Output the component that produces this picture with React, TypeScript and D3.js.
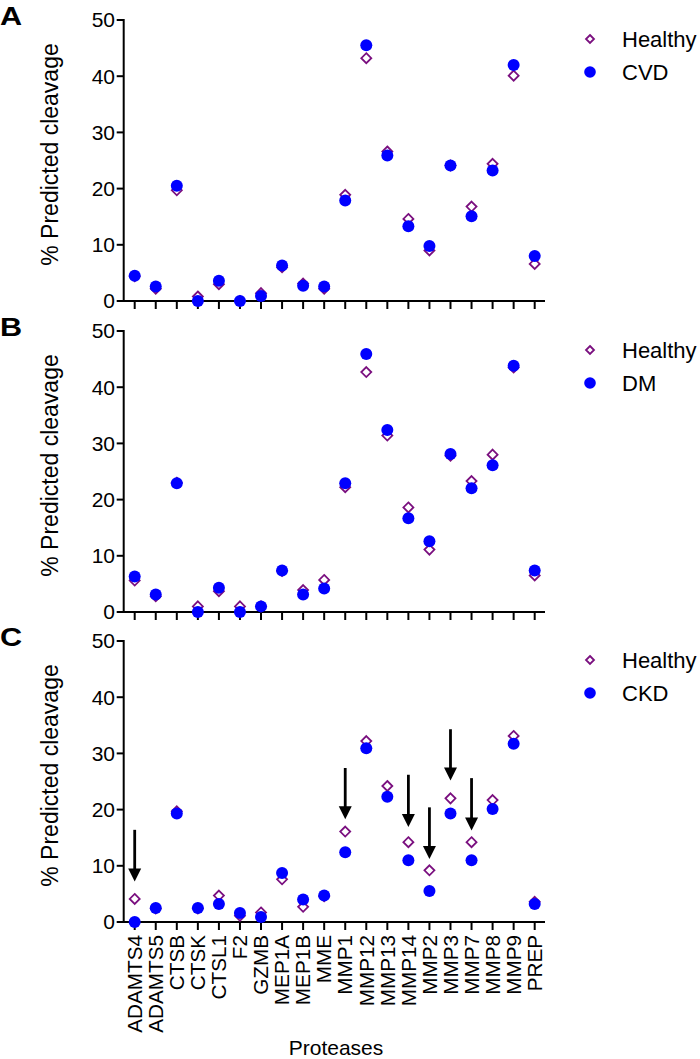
import React from "react";
import * as d3 from "d3";

const categories = ["ADAMTS4","ADAMTS5","CTSB","CTSK","CTSL1","F2","GZMB","MEP1A","MEP1B","MME","MMP1","MMP12","MMP13","MMP14","MMP2","MMP3","MMP7","MMP8","MMP9","PREP"];
const yTicks = [0, 10, 20, 30, 40, 50];

const healthyA = [4.4,2.2,19.7,0.8,3.0,0,1.4,6.0,3.1,2.2,18.9,43.2,26.6,14.6,9.0,24.1,16.8,24.4,40.1,6.6];
const cvd = [4.5,2.6,20.5,0,3.6,0,0.9,6.3,2.7,2.6,17.9,45.5,25.9,13.3,9.8,24.1,15.1,23.2,42.0,8.0];
const healthyB = [5.6,2.8,23.0,1.0,3.7,1.0,1.0,7.3,3.9,5.7,22.2,42.7,31.4,18.6,11.1,27.8,23.3,28.0,43.5,6.5];
const dm = [6.3,3.1,22.9,0,4.3,0,1.0,7.4,3.1,4.2,22.9,45.9,32.4,16.7,12.6,28.1,22.0,26.1,43.8,7.4];
const healthyC = [4.1,2.4,19.7,2.4,4.7,1.1,1.7,7.6,2.7,4.6,16.1,32.2,24.2,14.2,9.2,22.0,14.2,21.7,33.1,3.6];
const ckd = [0,2.5,19.3,2.5,3.2,1.6,0.9,8.7,4.0,4.7,12.4,30.9,22.3,11.0,5.5,19.3,11.0,20.1,31.7,3.2];

// arrows in panel C: [category, top value, tip value]
const arrowCats = ["ADAMTS4","MMP1","MMP14","MMP2","MMP3","MMP7"];
const arrowTop = [16.4,27.4,26.2,20.4,34.3,25.6];
const arrowTip = [7.2,18.3,16.9,11.2,25.2,16.3];

const panels = [
  { letter: "A", disease: "CVD", healthy: healthyA, sick: cvd, top: 20, bottom: 301 },
  { letter: "B", disease: "DM", healthy: healthyB, sick: dm, top: 331, bottom: 612 },
  { letter: "C", disease: "CKD", healthy: healthyC, sick: ckd, top: 641, bottom: 922 },
];

const FONT = "Liberation Sans, Arial, Helvetica, sans-serif";
const BLUE = "#0000ff";
const PURPLE = "#7a0f7f";

const x = d3.scalePoint<string>().domain(categories).range([134.7, 534.7]);
const AXIS_X = 123.7;
const AXIS_END = 545;

function diamond(cx: number, cy: number, r: number) {
  return `M${cx},${cy - r}L${cx + r},${cy}L${cx},${cy + r}L${cx - r},${cy}Z`;
}

function Panel({ p, showLabels }: { p: typeof panels[0]; showLabels: boolean }) {
  const y = d3.scaleLinear().domain([0, 50]).range([p.bottom, p.top]);
  return (
    <g>
      <text x={0} y={p.top + 5} fontFamily={FONT} fontWeight="bold" fontSize={25.5}
        transform={`scale(1.2,1)`}>{p.letter}</text>
      {/* y axis */}
      <line x1={AXIS_X} x2={AXIS_X} y1={p.top - 1} y2={p.bottom + 1} stroke="#000" strokeWidth={2} />
      {yTicks.map((t) => (
        <g key={t}>
          <line x1={AXIS_X - 7} x2={AXIS_X} y1={y(t)} y2={y(t)} stroke="#000" strokeWidth={2} />
          <text x={115} y={y(t)} dy="0.35em" textAnchor="end" fontFamily={FONT} fontSize={21}>{t}</text>
        </g>
      ))}
      <text transform={`translate(50,${p.top + 134.5}) rotate(-90)`} dy="0.35em" textAnchor="middle"
        fontFamily={FONT} fontSize={23}>% Predicted cleavage</text>
      {/* x axis */}
      <line x1={AXIS_X - 1} x2={AXIS_END} y1={p.bottom} y2={p.bottom} stroke="#000" strokeWidth={2} />
      {categories.map((c) => (
        <line key={c} x1={x(c)} x2={x(c)} y1={p.bottom} y2={p.bottom + 8} stroke="#000" strokeWidth={2} />
      ))}
      {showLabels && categories.map((c) => (
        <text key={c} transform={`translate(${x(c)},${p.bottom + 13}) rotate(-90)`} dy="0.35em"
          textAnchor="end" fontFamily={FONT} fontSize={20.7}>{c}</text>
      ))}
      {/* points */}
      {categories.map((c, i) => (
        <path key={"h" + c} d={diamond(x(c)!, y(p.healthy[i]), 5)} fill="#fff" stroke={PURPLE} strokeWidth={1.8} />
      ))}
      {categories.map((c, i) => (
        <circle key={"s" + c} cx={x(c)} cy={y(p.sick[i])} r={6} fill={BLUE} />
      ))}
      {/* legend */}
      <path d={diamond(590, p.top + 19, 4)} fill="#fff" stroke={PURPLE} strokeWidth={1.8} />
      <text x={622} y={p.top + 19} dy="0.35em" fontFamily={FONT} fontSize={22}>Healthy</text>
      <circle cx={590} cy={p.top + 52} r={5.8} fill={BLUE} />
      <text x={622} y={p.top + 52} dy="0.35em" fontFamily={FONT} fontSize={22}>{p.disease}</text>
    </g>
  );
}

export default function App() {
  const pc = panels[2];
  const yC = d3.scaleLinear().domain([0, 50]).range([pc.bottom, pc.top]);
  return (
    <svg width={700} height={1059} style={{ position: "absolute", left: 0, top: 0, background: "#fff" }}>
      <rect width={700} height={1059} fill="#fff" />
      {panels.map((p, i) => (
        <Panel key={p.letter} p={p} showLabels={i === 2} />
      ))}
      {arrowCats.map((c, i) => {
        const cx = x(c)!;
        const y0 = yC(arrowTop[i]);
        const y1 = yC(arrowTip[i]);
        const hh = 13;
        const hw = 6.5;
        return (
          <g key={c}>
            <line x1={cx} x2={cx} y1={y0} y2={y1 - hh + 1} stroke="#000" strokeWidth={2.8} />
            <path d={`M${cx - hw},${y1 - hh}L${cx + hw},${y1 - hh}L${cx},${y1}Z`} fill="#000" />
          </g>
        );
      })}
      <text x={336} y={1055} textAnchor="middle" fontFamily={FONT} fontSize={21}>Proteases</text>
    </svg>
  );
}
